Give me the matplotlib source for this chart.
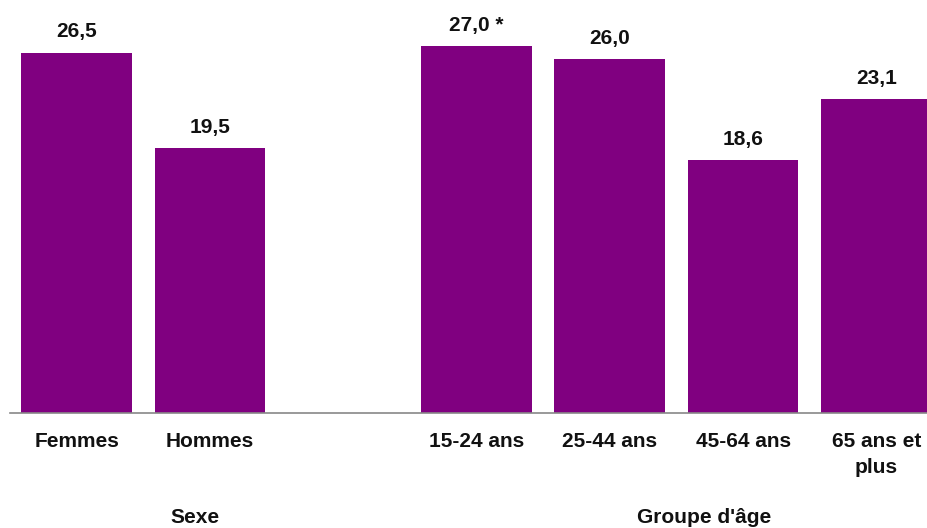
import matplotlib
matplotlib.use("Agg")
import matplotlib.pyplot as plt

categories = ["Femmes", "Hommes", "", "15-24 ans", "25-44 ans", "45-64 ans", "65 ans et\nplus"]
values = [26.5, 19.5, None, 27.0, 26.0, 18.6, 23.1]
value_labels = ["26,5", "19,5", "", "27,0 *", "26,0", "18,6", "23,1"]
groups = ["Sexe", "Groupe d'âge"]
group_positions = [0.885, 4.71]

plt.rcParams['font.family'] = ['Liberation Sans', 'DejaVu Sans']

W, H = 928, 528
fig = plt.figure(figsize=(W / 100, H / 100), dpi=100)
ax = fig.add_axes([10 / W, 115 / H, 933 / W, 408 / H])

color = "#800080"
txt = dict(fontsize=15, fontweight="bold", color="#111111")
for i, (v, lab) in enumerate(zip(values, value_labels)):
    if v is None:
        continue
    ax.bar(i, v, width=0.83, color=color)
    ax.annotate(lab, (i, v), xytext=(0, 8), textcoords="offset points",
                ha="center", va="bottom", **txt)

ax.set_xlim(-0.5, 6.5)
ax.set_ylim(0, 30)
ax.set_xticks(range(len(categories)))
ax.set_xticklabels(categories, linespacing=1.45, **txt)
ax.tick_params(axis="x", length=0, pad=14)
ax.set_yticks([])
for s in ["top", "right", "left"]:
    ax.spines[s].set_visible(False)
ax.spines["bottom"].set_color("#888888")
ax.spines["bottom"].set_linewidth(1.2)

for g, xp in zip(groups, group_positions):
    ax.annotate(g, (xp, 0), xycoords=("data", "axes fraction"),
                xytext=(0, -75), textcoords="offset points",
                ha="center", va="center", **txt)

fig.savefig("out.png", dpi=100)
